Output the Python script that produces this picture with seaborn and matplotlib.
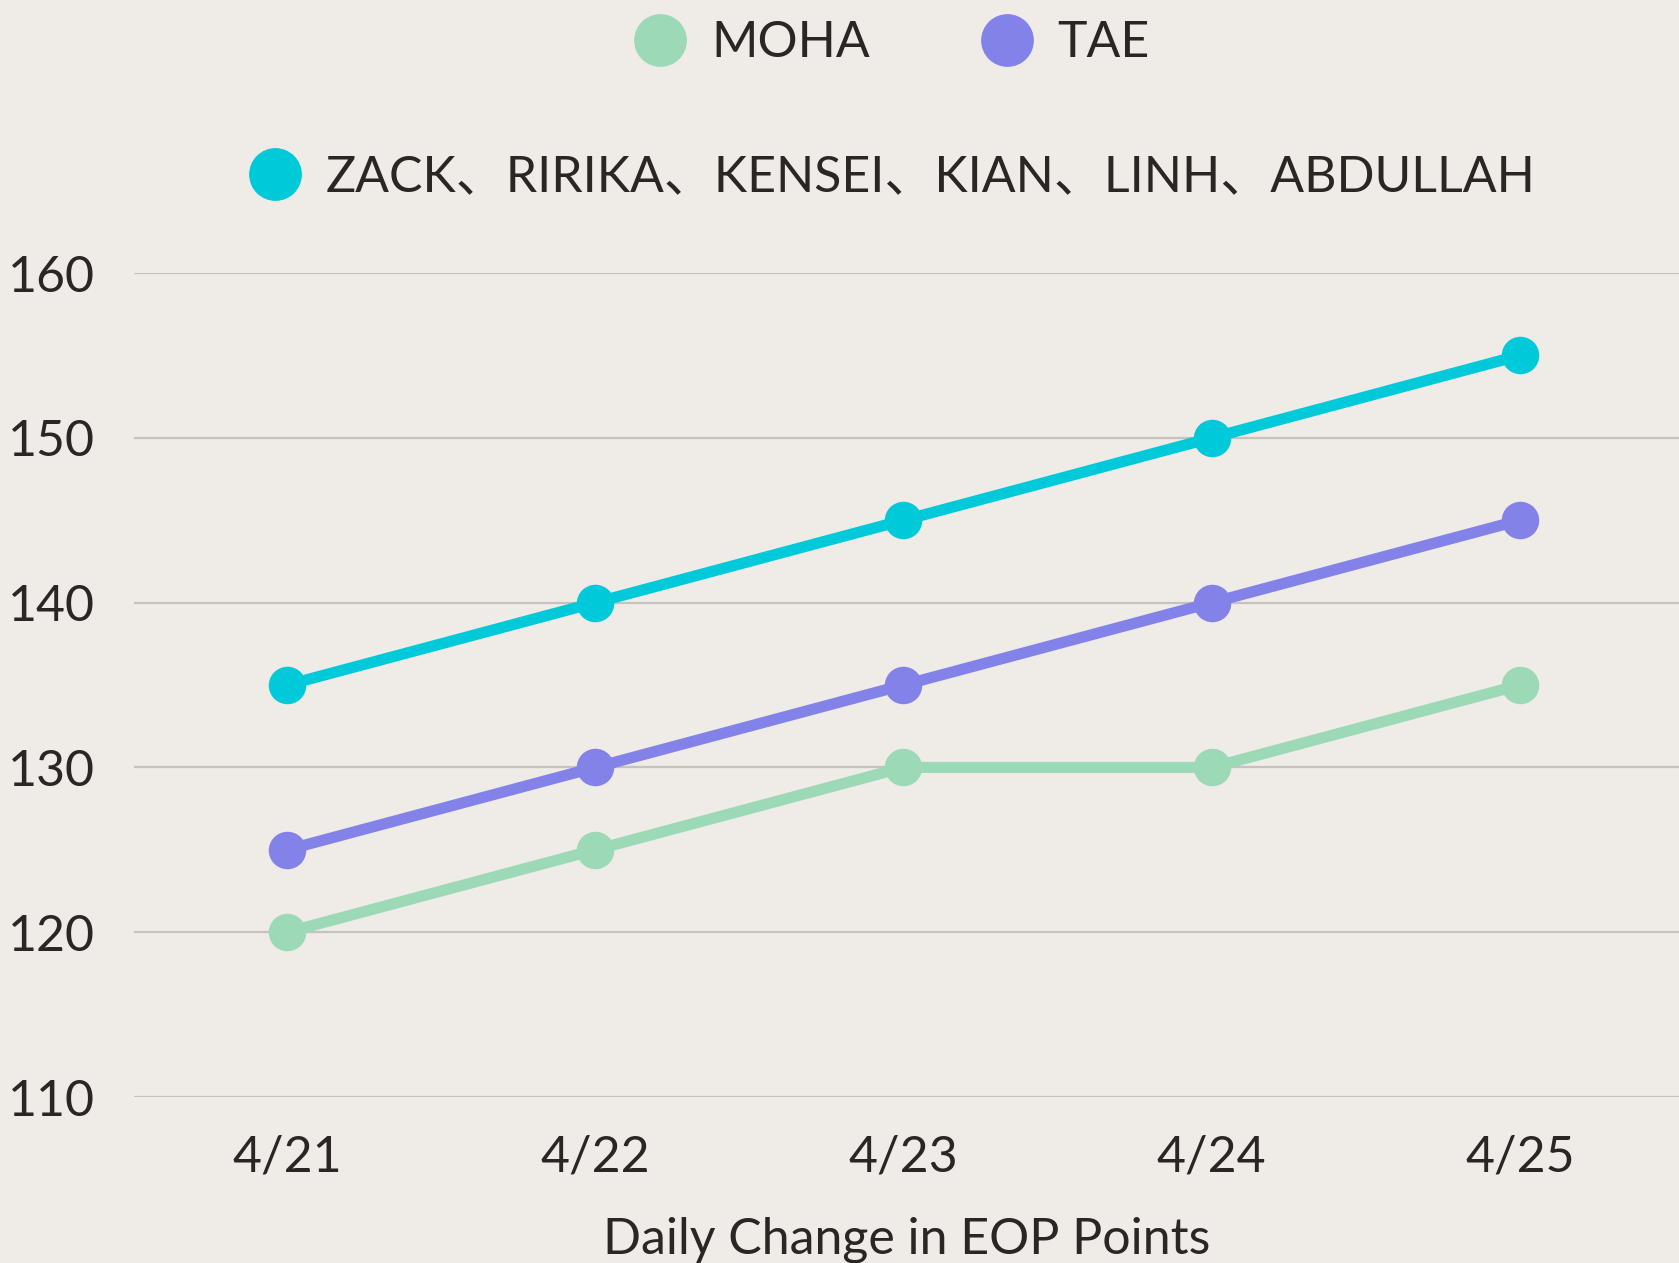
import matplotlib
matplotlib.use("Agg")
import matplotlib.pyplot as plt
from matplotlib.lines import Line2D
import seaborn as sns
import pandas as pd

dates = ["4/21", "4/22", "4/23", "4/24", "4/25"]
series_names = ["ZACK、RIRIKA、KENSEI、KIAN、LINH、ABDULLAH", "TAE", "MOHA"]
zack_group = [135, 140, 145, 150, 155]
tae = [125, 130, 135, 140, 145]
moha = [120, 125, 130, 130, 135]
y_ticks = [110, 120, 130, 140, 150, 160]
x_label = "Daily Change in EOP Points"

colors = {series_names[0]: "#00C9D9", series_names[1]: "#8282E8", series_names[2]: "#9CD9B6"}
BG = "#EFECE8"
TXT = "#2B2523"
GRID = "#C6C2BE"
FS = 36

rows = []
for name, vals in zip(series_names, [zack_group, tae, moha]):
    for i, v in enumerate(vals):
        rows.append({"x": i, "value": v, "series": name})
df = pd.DataFrame(rows)

sns.set_theme(style="white")
plt.rcParams["font.family"] = ["Lato", "Noto Sans CJK JP", "DejaVu Sans"]
plt.rcParams["text.color"] = TXT

fig = plt.figure(figsize=(16.79, 12.63), dpi=100, facecolor=BG)
ax = fig.add_axes([0.0798, 0.1314, 0.9202, 0.6524])
ax.set_facecolor(BG)

sns.lineplot(data=df, x="x", y="value", hue="series", hue_order=series_names,
             palette=colors, marker="o", markersize=27, markeredgewidth=0,
             linewidth=8, legend=False, ax=ax)

ax.set_xlim(-0.496, 4.516)
ax.set_ylim(110, 160)
ax.set_yticks(y_ticks)
ax.set_yticklabels([str(t) for t in y_ticks])
ax.set_xticks(range(len(dates)))
ax.set_xticklabels(dates)
ax.tick_params(axis="both", length=0, labelsize=FS, colors=TXT)
ax.tick_params(axis="y", pad=28)
ax.tick_params(axis="x", pad=27)
ax.set_ylabel("")
ax.set_xlabel(x_label, fontsize=FS, color=TXT, labelpad=26)
ax.yaxis.grid(True, color=GRID, linewidth=1.6)
ax.xaxis.grid(False)
for s in ax.spines.values():
    s.set_visible(False)

def handle(c):
    return Line2D([], [], marker="o", linestyle="none", markersize=38,
                  markerfacecolor=c, markeredgewidth=0)

leg1 = fig.legend([handle(colors["MOHA"]), handle(colors["TAE"])], ["MOHA", "TAE"],
                  loc="center", bbox_to_anchor=(892 / 1679, 1 - 43 / 1263), ncol=2,
                  frameon=False, fontsize=FS, handlelength=1.05, handletextpad=0.5,
                  columnspacing=2.2)
leg2 = fig.legend([handle(colors[series_names[0]])], [series_names[0]],
                  loc="center", bbox_to_anchor=(892 / 1679, 1 - 177 / 1263), ncol=1,
                  frameon=False, fontsize=FS, handlelength=1.05, handletextpad=0.5)
for leg in (leg1, leg2):
    for t in leg.get_texts():
        t.set_color(TXT)

fig.savefig("out.png", dpi=100, facecolor=BG)
